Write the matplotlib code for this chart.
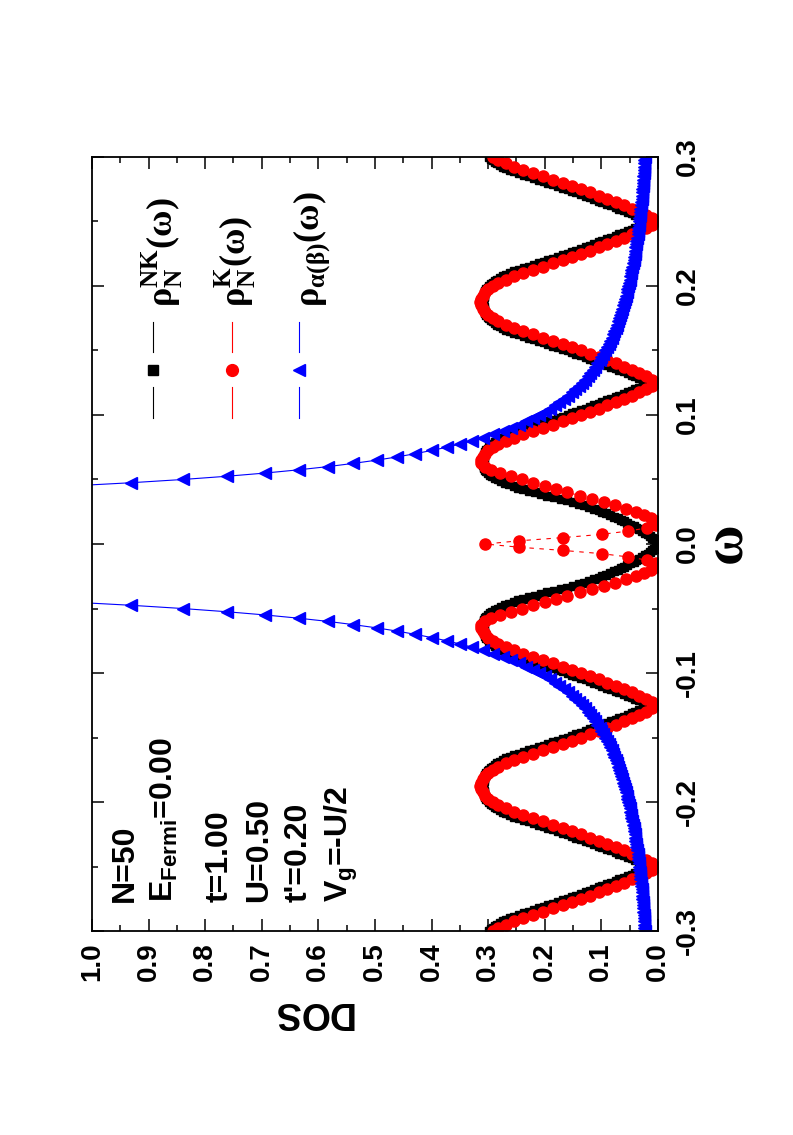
import numpy as np
import matplotlib
matplotlib.use('Agg')
import matplotlib.pyplot as plt
from matplotlib.ticker import MultipleLocator, FuncFormatter
from matplotlib.lines import Line2D

plt.rcParams['font.family'] = ['Liberation Sans', 'DejaVu Sans']

# rho_N^NK(omega) for omega = 0 .. 0.3 (step 0.00125), mirrored for omega < 0
rho_nk_half = [
    # 0 .. 0.0625
    0.000, 0.002, 0.004, 0.007, 0.010, 0.014, 0.018, 0.023, 0.028, 0.033,
    0.038, 0.043, 0.049, 0.054, 0.060, 0.065, 0.071, 0.077, 0.084, 0.091,
    0.098, 0.105, 0.113, 0.121, 0.130, 0.140, 0.150, 0.161, 0.172, 0.184,
    0.196, 0.207, 0.218, 0.228, 0.238, 0.247, 0.255, 0.263, 0.270, 0.277,
    0.283, 0.288, 0.293, 0.297, 0.301, 0.304, 0.306, 0.308, 0.308, 0.309, 0.309,
    # .. 0.125
    0.309, 0.309, 0.308, 0.308, 0.307, 0.306, 0.305, 0.303, 0.301, 0.298,
    0.295, 0.292, 0.288, 0.284, 0.279, 0.274, 0.268, 0.261, 0.254, 0.245,
    0.236, 0.228, 0.219, 0.211, 0.202, 0.194, 0.185, 0.176, 0.167, 0.159,
    0.151, 0.144, 0.136, 0.128, 0.120, 0.113, 0.105, 0.098, 0.090, 0.083,
    0.075, 0.068, 0.060, 0.053, 0.046, 0.040, 0.033, 0.027, 0.021, 0.016,
    # .. 0.1875
    0.021, 0.027, 0.033, 0.040, 0.046, 0.053, 0.060, 0.068, 0.075, 0.083,
    0.090, 0.098, 0.105, 0.113, 0.120, 0.128, 0.136, 0.144, 0.151, 0.159,
    0.167, 0.176, 0.185, 0.194, 0.202, 0.211, 0.219, 0.228, 0.236, 0.245,
    0.254, 0.261, 0.268, 0.274, 0.279, 0.284, 0.288, 0.292, 0.295, 0.298,
    0.301, 0.303, 0.305, 0.306, 0.307, 0.308, 0.308, 0.309, 0.309, 0.309,
    # .. 0.25
    0.309, 0.309, 0.308, 0.308, 0.307, 0.306, 0.305, 0.303, 0.301, 0.298,
    0.295, 0.292, 0.288, 0.284, 0.279, 0.274, 0.268, 0.261, 0.254, 0.245,
    0.236, 0.228, 0.219, 0.211, 0.202, 0.194, 0.185, 0.176, 0.167, 0.159,
    0.151, 0.144, 0.136, 0.128, 0.120, 0.113, 0.105, 0.098, 0.090, 0.083,
    0.075, 0.068, 0.060, 0.053, 0.046, 0.040, 0.033, 0.027, 0.021, 0.016,
    # .. 0.3
    0.021, 0.027, 0.033, 0.040, 0.046, 0.053, 0.060, 0.068, 0.075, 0.083,
    0.090, 0.098, 0.105, 0.113, 0.120, 0.128, 0.136, 0.144, 0.151, 0.159,
    0.167, 0.176, 0.185, 0.194, 0.202, 0.211, 0.219, 0.228, 0.236, 0.245,
    0.254, 0.261, 0.268, 0.274, 0.279, 0.284, 0.288, 0.292, 0.295, 0.298]

# rho_N^K(omega) for omega = 0 .. 0.3 (step 0.0025)
rho_k_half = [
    0.305, 0.245, 0.167, 0.099, 0.053, 0.019, 0.003, 0.004, 0.012, 0.024,
    0.038, 0.056, 0.076, 0.096, 0.116, 0.138, 0.160, 0.181, 0.200, 0.220,
    0.240, 0.260, 0.279, 0.295, 0.306, 0.312,
    0.313, 0.310, 0.306, 0.300, 0.292, 0.282, 0.269, 0.255, 0.238, 0.221,
    0.203, 0.186, 0.168, 0.152, 0.136, 0.120, 0.105, 0.090, 0.075, 0.060,
    0.046, 0.033, 0.021, 0.011, 0.003,
    0.011, 0.021, 0.033, 0.046, 0.060, 0.075, 0.090, 0.105, 0.120, 0.136,
    0.152, 0.168, 0.186, 0.203, 0.221, 0.238, 0.255, 0.269, 0.282, 0.292,
    0.300, 0.306, 0.310, 0.313, 0.314,
    0.313, 0.310, 0.306, 0.300, 0.292, 0.282, 0.269, 0.255, 0.238, 0.221,
    0.203, 0.186, 0.168, 0.152, 0.136, 0.120, 0.105, 0.090, 0.075, 0.060,
    0.046, 0.033, 0.021, 0.011, 0.003,
    0.011, 0.021, 0.033, 0.046, 0.060, 0.075, 0.090, 0.105, 0.120, 0.136,
    0.152, 0.168, 0.186, 0.203, 0.221, 0.238, 0.255, 0.269, 0.282, 0.292]

# rho_alpha(beta)(omega) for |omega| = 0.045 .. 0.3 (step 0.0025)
rho_ab_half = [
    1.037, 0.931, 0.840, 0.762, 0.694, 0.635, 0.583, 0.538, 0.497, 0.461,
    0.429, 0.400, 0.373, 0.350, 0.328, 0.309, 0.291, 0.274, 0.259, 0.245,
    0.233, 0.221, 0.210, 0.200, 0.190, 0.182, 0.174, 0.166, 0.159, 0.152,
    0.146, 0.140, 0.134, 0.129, 0.124, 0.120, 0.115, 0.111, 0.107, 0.103,
    0.100, 0.097, 0.093, 0.090, 0.087, 0.085, 0.082, 0.080, 0.077, 0.075,
    0.073, 0.071, 0.069, 0.067, 0.065, 0.063, 0.061, 0.060, 0.058, 0.057,
    0.055, 0.054, 0.053, 0.051, 0.050, 0.049, 0.048, 0.047, 0.045, 0.044,
    0.043, 0.042, 0.041, 0.041, 0.040, 0.039, 0.038, 0.037, 0.036, 0.036,
    0.035, 0.034, 0.034, 0.033, 0.032, 0.032, 0.031, 0.030, 0.030, 0.029,
    0.029, 0.028, 0.028, 0.027, 0.027, 0.026, 0.026, 0.025, 0.025, 0.025,
    0.024, 0.024, 0.023]

params = ['N=50', r'E$_\mathregular{Fermi}$=0.00', 't=1.00', 'U=0.50', "t'=0.20",
          r'V$_\mathregular{g}$=-U/2']
legend_labels = [r'ρ$_\mathregular{N}^\mathregular{NK}$(ω)',
                 r'ρ$_\mathregular{N}^\mathregular{K}$(ω)',
                 r'ρ$_\mathregular{α(β)}$(ω)']


def mirror(w0, w1, values):
    values = np.asarray(values)
    w = np.linspace(w0, w1, len(values))
    if w0 == 0:
        return np.concatenate([-w[:0:-1], w]), np.concatenate([values[:0:-1], values])
    # gap in the middle (curve leaves the frame)
    return (np.concatenate([-w[::-1], [np.nan], w]),
            np.concatenate([values[::-1], [np.nan], values]))


w_nk, rho_nk = mirror(0.0, 0.3, rho_nk_half)
w_k, rho_k = mirror(0.0, 0.3, rho_k_half)
w_ab, rho_ab = mirror(0.045, 0.3, rho_ab_half)

fig = plt.figure(figsize=(7.93, 11.35), dpi=100)
ax = fig.add_axes([0.116, 0.1797, 0.7137, 0.682])

# page is turned: DOS runs horizontally (right to left), omega vertically
styles = [('black', 's', 6.0, '-'), ('red', 'o', 8.0, (0, (4, 5))), ('blue', '<', 8.5, '-')]
series = [(rho_nk, w_nk), (rho_k, w_k), (rho_ab, w_ab)]
for (x, y), (c, m, ms, ls) in zip(series, styles):
    ax.plot(x, y, color=c, lw=0.8, ls=ls, marker=m, ms=ms, mec=c, mfc=c)

ax.set_xlim(1.0, 0.0)
ax.set_ylim(-0.3, 0.3)
for axis in (ax.xaxis, ax.yaxis):
    axis.set_major_locator(MultipleLocator(0.1))
    axis.set_minor_locator(MultipleLocator(0.05))
    axis.set_major_formatter(FuncFormatter(lambda v, p: ('%.1f' % v).replace('-0.0', '0.0')))

ax.tick_params(which='both', direction='in', top=True, bottom=True, left=True, right=True,
               labelleft=False, labelright=True, labelbottom=True, width=1.1)
ax.tick_params(which='major', length=8.6)
ax.tick_params(which='minor', length=4.3)
ax.tick_params(axis='x', pad=8)
ax.tick_params(axis='y', pad=12)
for lab in ax.get_xticklabels() + ax.get_yticklabels():
    lab.set_rotation(90)
    lab.set_fontsize(20)
    lab.set_fontweight('bold')
for lab in ax.get_yticklabels():
    lab.set_va('center')
for sp in ax.spines.values():
    sp.set_linewidth(1.3)

fig.text(312 / 793, 1 - 1012 / 1135, 'DOS', rotation=180, fontsize=27, fontweight='bold',
         ha='center', va='center')
fig.text(727 / 793, 1 - 543 / 1135, 'ω', rotation=90, fontsize=40, fontweight='bold',
         family=['Liberation Serif', 'DejaVu Serif'], ha='center', va='center')

# parameter block
for i, s in enumerate(params):
    xb = [0.073, 0.143, 0.239, 0.309, 0.380, 0.451][i]
    ax.text(xb, 0.037, s, transform=ax.transAxes, rotation=90, rotation_mode='anchor',
            ha='left', va='baseline', fontsize=23, fontweight='bold')

# legend, drawn turned like the rest of the page
for i, (c, m, ms, ls) in enumerate(styles):
    xl = [0.108, 0.247, 0.366][i]
    ax.add_line(Line2D([xl, xl], [0.787, 0.748], transform=ax.transAxes, color=c, lw=0.8))
    ax.add_line(Line2D([xl, xl], [0.703, 0.663], transform=ax.transAxes, color=c, lw=0.8))
    ax.add_line(Line2D([xl], [0.725], transform=ax.transAxes, color=c, marker=m,
                       ms=ms + 0.5, mec=c, mfc=c))
    ax.text([0.124, 0.254, 0.389][i], 0.806, legend_labels[i], transform=ax.transAxes,
            rotation=90, ha='center', va='bottom', fontsize=26, fontweight='bold',
            family=['Liberation Serif', 'DejaVu Serif'])

fig.savefig('out.png', dpi=100)
